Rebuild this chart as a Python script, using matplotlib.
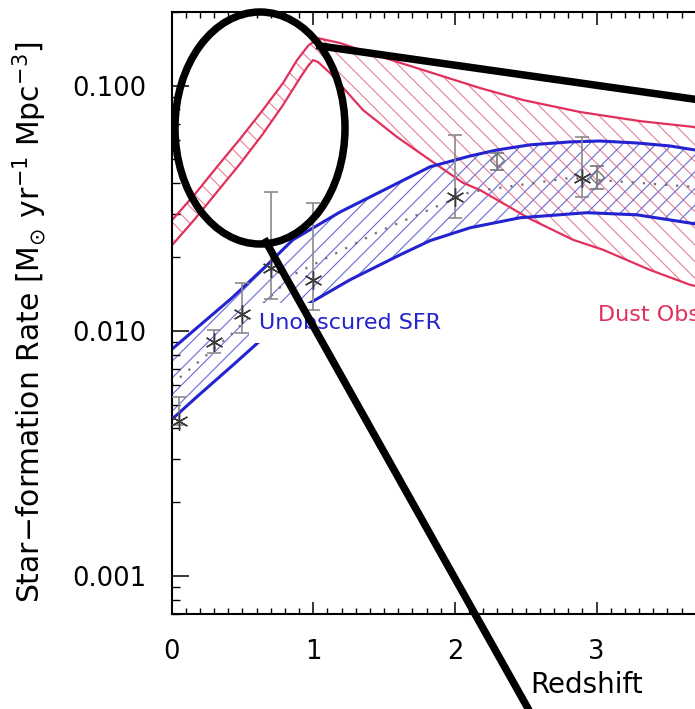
import matplotlib
matplotlib.use('Agg')
import matplotlib.pyplot as plt
import numpy as np
from matplotlib.patches import Ellipse
from matplotlib.lines import Line2D
from matplotlib.ticker import FixedLocator, FormatStrFormatter, LogLocator, MultipleLocator, NullFormatter

plt.rcParams['font.family'] = ['DejaVu Sans']
plt.rcParams['hatch.linewidth'] = 0.8

# ---- data ----
# Dust-obscured SFR band
red_up_z = [0, 0.166, 0.321, 0.483, 0.639, 0.787, 0.886, 0.963, 1.034, 1.19, 1.443, 1.754, 2.177, 2.48, 2.883, 3.306, 3.694, 3.75]
red_up = [0.0281, 0.0361, 0.0466, 0.0605, 0.0787, 0.1023, 0.127, 0.145, 0.156, 0.149, 0.133, 0.1167, 0.0977, 0.0873, 0.078, 0.0716, 0.0677, 0.0672]
red_lo_z = [0, 0.166, 0.321, 0.483, 0.639, 0.787, 0.907, 0.963, 0.999, 1.034, 1.119, 1.351, 1.591, 1.824, 2.057, 2.177, 2.53, 2.833, 3.045, 3.377, 3.659, 3.75]
red_lo = [0.0222, 0.0286, 0.0368, 0.0479, 0.0628, 0.0833, 0.1074, 0.120, 0.127, 0.1247, 0.1124, 0.0795, 0.0617, 0.0497, 0.0401, 0.0375, 0.0286, 0.0235, 0.0214, 0.0177, 0.0154, 0.0150]

# Unobscured SFR band
blue_up_z = [0, 0.187, 0.427, 0.66, 0.857, 1.19, 1.471, 1.824, 2.107, 2.297, 2.53, 2.812, 3.024, 3.285, 3.518, 3.694, 3.75]
blue_up = [0.00838, 0.01037, 0.01362, 0.0182, 0.0235, 0.0305, 0.0368, 0.0466, 0.0516, 0.0546, 0.0573, 0.0589, 0.0594, 0.0583, 0.0567, 0.0546, 0.0542]
blue_lo_z = [0, 0.187, 0.427, 0.61, 0.956, 1.26, 1.613, 1.824, 2.107, 2.46, 2.933, 3.285, 3.694, 3.75]
blue_lo = [0.00434, 0.00543, 0.00719, 0.00894, 0.01277, 0.01614, 0.0204, 0.0233, 0.0263, 0.0289, 0.0303, 0.0297, 0.0273, 0.0270]

# dotted central line
mid_z = [0, 0.427, 0.857, 1.471, 2.107, 2.812, 3.694, 3.75]
mid = [0.00603, 0.00973, 0.0169, 0.0255, 0.0368, 0.0420, 0.0386, 0.0383]

# measurements (asterisks)
ast_z = [0.05, 0.3, 0.5, 0.7, 1.0, 2.0, 2.9]
ast_v = [0.0043, 0.00902, 0.01172, 0.0181, 0.01614, 0.0352, 0.0420]
ast_hi = [0.00538, 0.0101, 0.0157, 0.0368, 0.0332, 0.0628, 0.0617]
ast_lo = [0.00414, 0.00813, 0.00982, 0.01349, 0.0122, 0.0288, 0.0352]

# measurements (diamonds)
dia_z = [2.3, 3.0]
dia_v = [0.0497, 0.0424]
dia_hi = [0.0531, 0.0470]
dia_lo = [0.0453, 0.0379]

xticks = [0, 1, 2, 3, 4, 5, 6]
xtick_labels = ['0', '1', '2', '3', '', '', '']
yticks = [0.001, 0.01, 0.1]

RED = '#e2305c'
RED_H = '#e8809a'
BLUE = '#2323cf'
BLUE_H = '#6a6ad8'

W, H = 695, 709
fig = plt.figure(figsize=(W / 100, H / 100), dpi=100)
ax = fig.add_axes([171.5 / W, (H - 614) / H, 850.2 / W, 602.3 / H])

ax.set_yscale('log')
ax.set_xlim(0, 6)
ax.set_ylim(0.0007, 0.2)

# bands
rx = np.concatenate([red_up_z, red_lo_z[::-1]])
ry = np.concatenate([red_up, red_lo[::-1]])
ax.fill(rx, ry, facecolor='none', edgecolor=RED_H, hatch='\\\\', linewidth=0, zorder=1)
bx = np.concatenate([blue_up_z, blue_lo_z[::-1]])
by = np.concatenate([blue_up, blue_lo[::-1]])
ax.fill(bx, by, facecolor='none', edgecolor=BLUE_H, hatch='//', linewidth=0, zorder=1)

ax.plot(red_up_z, red_up, color=RED, lw=1.6, zorder=2)
ax.plot(red_lo_z, red_lo, color=RED, lw=1.6, zorder=2)
ax.plot(blue_up_z, blue_up, color=BLUE, lw=2.2, zorder=2)
ax.plot(blue_lo_z, blue_lo, color=BLUE, lw=2.2, zorder=2)
ax.plot(mid_z, mid, color='#707070', lw=1.6, ls=(0, (1, 4)), zorder=2)

# labels with white box
ax.text(0.62, 0.0108, 'Unobscured SFR', color=BLUE, fontsize=16, ha='left', va='center',
        bbox=dict(boxstyle='square,pad=0.45', fc='white', ec='none'), zorder=3)
ax.text(3.01, 0.01164, 'Dust Obscured SFR', color=RED, fontsize=16, ha='left', va='center',
        bbox=dict(boxstyle='square,pad=0.45', fc='white', ec='none'), zorder=3)

# data points
ast_err = [np.array(ast_v) - np.array(ast_lo), np.array(ast_hi) - np.array(ast_v)]
ax.errorbar(ast_z, ast_v, yerr=ast_err, fmt='none', ecolor='#8a8a8a', elinewidth=1.2, capsize=5, capthick=1.2, zorder=4)
ax.plot(ast_z, ast_v, ls='none', marker=(6, 2, 0), ms=13, mew=1.0, color='#3a3a3a', zorder=5)
dia_err = [np.array(dia_v) - np.array(dia_lo), np.array(dia_hi) - np.array(dia_v)]
ax.errorbar(dia_z, dia_v, yerr=dia_err, fmt='none', ecolor='#777777', elinewidth=1.2, capsize=5, capthick=1.2, zorder=4)
ax.plot(dia_z, dia_v, ls='none', marker='D', ms=7, mfc='none', mec='#777777', mew=1.0, zorder=5)

# axes styling
ax.set_xticks(xticks, labels=xtick_labels)
ax.xaxis.set_minor_locator(MultipleLocator(0.1))
ax.yaxis.set_major_locator(FixedLocator(yticks))
ax.yaxis.set_major_formatter(FormatStrFormatter('%.3f'))
ax.yaxis.set_minor_locator(LogLocator(base=10, subs=np.arange(2, 10)))
ax.yaxis.set_minor_formatter(NullFormatter())

for s in ax.spines.values():
    s.set_linewidth(1.5)
ax.tick_params(which='both', direction='in', top=True, right=False, labelsize=18.5, color='black')
ax.tick_params(axis='x', which='major', length=9, width=1.1, pad=18)
ax.tick_params(axis='x', which='minor', length=4, width=1.0)
ax.tick_params(axis='y', which='major', length=12, width=1.1, pad=18)
ax.tick_params(axis='y', which='minor', length=6, width=1.0)

ax.set_xlabel('Redshift', fontsize=20)
ax.xaxis.set_label_coords((587 - 171.5) / 850.2, (614 - 671) / 602.3)
fig.text(30 / W, 1 - 322 / H, 'Star\u2212formation Rate [M$_{\\odot}$ yr$^{-1}$ Mpc$^{-3}$]',
         rotation=90, ha='center', va='center', fontsize=21.5)

# black overlay annotation
fig.add_artist(Ellipse((260 / W, 1 - 128 / H), 170 / W, 232 / H, transform=fig.transFigure,
                       fill=False, ec='black', lw=5.4, zorder=20))
fig.add_artist(Line2D([320 / W, 700 / W], [1 - 46 / H, 1 - 100 / H], transform=fig.transFigure,
                      color='black', lw=5.4, zorder=20))
fig.add_artist(Line2D([266 / W, 530 / W], [1 - 242 / H, 1 - 712 / H], transform=fig.transFigure,
                      color='black', lw=5.4, zorder=20))

fig.savefig('out.png', dpi=100)
